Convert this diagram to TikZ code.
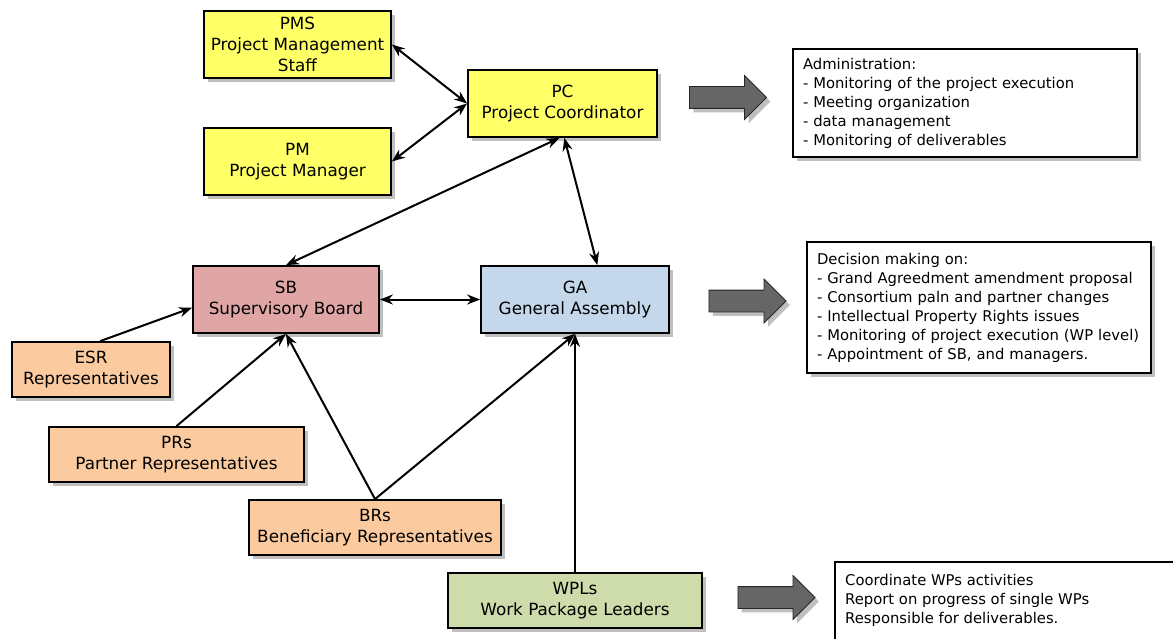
\documentclass[tikz,border=0pt]{standalone}
\usepackage{fontspec}
\setmainfont{DejaVu Sans}
\usetikzlibrary{positioning,shapes.arrows,shadows,arrows.meta}

\definecolor{pcyellow}{RGB}{255,255,102}
\definecolor{sbred}{RGB}{224,166,166}
\definecolor{gablue}{RGB}{197,216,235}
\definecolor{reporange}{RGB}{251,203,159}
\definecolor{wpgreen}{RGB}{206,219,170}
\definecolor{arrowgray}{RGB}{102,102,102}

\begin{document}
\begin{tikzpicture}[x=1pt, y=-1pt, >={Stealth[length=13pt,width=10pt]},
  shade/.style = {drop shadow={shadow xshift=4pt, shadow yshift=-4pt, opacity=0.5}},
  main/.style = {draw, line width=1.8pt, inner sep=0pt, align=center, minimum height=67pt,
    font=\fontsize{16.8}{21}\selectfont, shade},
  small/.style = {main, minimum height=55pt},
  info/.style = {draw, line width=1.8pt, fill=white, align=left, text width=324pt, inner xsep=10pt,
    font=\fontsize{14.8}{19}\selectfont, shade},
  bigarrow/.style = {single arrow, draw=black!85, line width=0.8pt, fill=arrowgray, inner xsep=0pt,
    inner ysep=10.5pt, text height=0pt, text depth=0pt, minimum height=77pt,
    single arrow head extend=11pt, shade},
  link/.style = {line width=2pt}]
\clip (0,0) rectangle (1173,639);

% coordination level
\node[main, fill=pcyellow, minimum width=187pt] (pms) at (297.5,44.5) {PMS\\Project Management\\Staff};
\node[main, fill=pcyellow, minimum width=187pt] (pm) at (297.5,161.5) {PM\\Project Manager};
\node[main, fill=pcyellow, minimum width=189pt] (pc) at (562.5,103.5) {PC\\Project Coordinator};

% boards
\node[main, fill=sbred, minimum width=186pt] (sb) at (286,299.5) {SB\\Supervisory Board};
\node[main, fill=gablue, minimum width=188pt] (ga) at (575,299.5) {GA\\General Assembly};

% representatives
\node[small, fill=reporange, minimum width=158pt] (esr) at (91,369.5) {ESR\\Representatives};
\node[small, fill=reporange, minimum width=255pt] (prs) at (176.5,454.5) {PRs\\Partner Representatives};
\node[small, fill=reporange, minimum width=252pt] (brs) at (375,527.5) {BRs\\Beneficiary Representatives};
\node[small, fill=wpgreen, minimum width=254pt] (wpl) at (575,600.5) {WPLs\\Work Package Leaders};

% tasks
\node[bigarrow] (a1) at (722.5,97.5) {};
\node[bigarrow] (a2) at (742,301) {};
\node[bigarrow] (a3) at (771,597.5) {};

\node[info, minimum height=108pt] (admin) at (965,103) {Administration:\\- Monitoring of the project execution\\- Meeting organization\\- data management\\- Monitoring of deliverables};
\node[info, minimum height=131pt] (decide) at (979,307.5) {Decision making on:\\- Grand Agreedment amendment proposal\\- Consortium paln and partner changes\\- Intellectual Property Rights issues\\- Monitoring of project execution (WP level)\\- Appointment of SB, and managers.};
\node[draw, line width=1.8pt, fill=white, anchor=north west, minimum width=400pt, minimum height=120pt, shade] (wpbox) at (834,561) {};
\node[anchor=north west, inner sep=0pt, align=left, font=\fontsize{14.8}{19}\selectfont] (wptext) at (845,574) {Coordinate WPs activities\\Report on progress of single WPs\\Responsible for deliverables.};

% links
\draw[link, <->] (pms.east) -- (pc.west);
\draw[link, <->] (pm.east) -- (pc.west);
\draw[link, <->] (pc.-95) -- (sb.north);
\draw[link, <->] (pc.-87) -- (ga.57);
\draw[link, <->] (sb.east) -- (ga.west);
\draw[link, ->] (esr.72) -- (sb.185);
\draw[link, ->] (prs.north) -- (sb.south);
\draw[link, ->] (brs.north) -- (sb.south);
\draw[link, ->] (brs.north) -- (ga.south);
\draw[link, ->] (wpl.north) -- (ga.south);

\end{tikzpicture}
\end{document}
